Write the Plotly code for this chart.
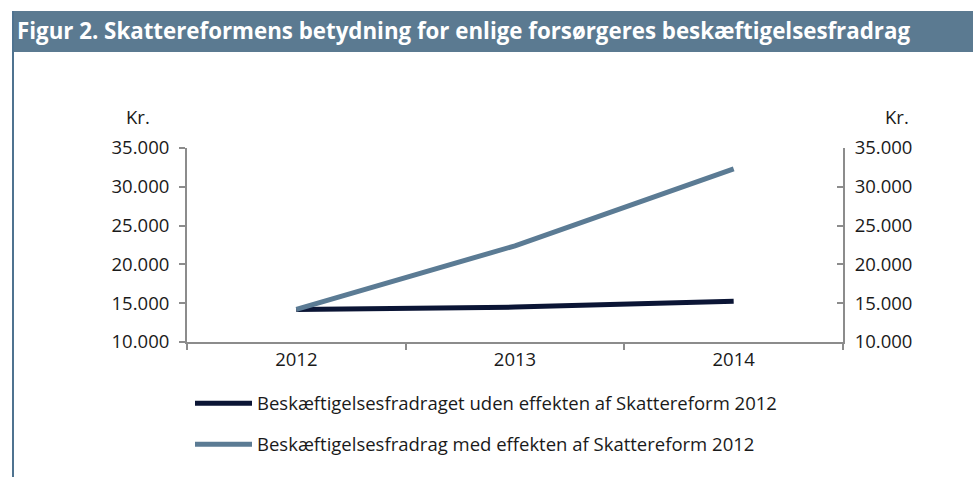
import plotly.graph_objects as go

years = ["2012", "2013", "2014"]
uden_effekt = [14200, 14500, 15250]
med_effekt = [14200, 22400, 32300]
series_names = [
    "Beskæftigelsesfradraget uden effekten af Skattereform 2012",
    "Beskæftigelsesfradrag med effekten af Skattereform 2012",
]
y_ticks = [10000, 15000, 20000, 25000, 30000, 35000]
y_tick_labels = ["10.000", "15.000", "20.000", "25.000", "30.000", "35.000"]
title_text = "Figur 2. Skattereformens betydning for enlige forsørgeres beskæftigelsesfradrag"

FONT = "Open Sans"
W, H = 973, 477
L, R, T, B = 187, 843, 148, 342

fig = go.Figure()
fig.add_trace(go.Scatter(x=years, y=uden_effekt, mode="lines", name=series_names[0],
                         legendgroup="a",
                         line=dict(color="#0b1535", width=5)))
fig.add_trace(go.Scatter(x=years, y=med_effekt, mode="lines", name=series_names[1],
                         legendgroup="b",
                         line=dict(color="#5b7b94", width=5)))
# invisible trace to activate right axis
fig.add_trace(go.Scatter(x=years, y=med_effekt, yaxis="y2", mode="lines",
                         line=dict(width=0, color="rgba(0,0,0,0)"),
                         showlegend=False, hoverinfo="skip"))

axis_font = dict(family=FONT, size=18.5, color="#1a1a1a")
fig.update_layout(
    width=W, height=H,
    margin=dict(l=L, r=W - R, t=T, b=H - B),
    paper_bgcolor="white", plot_bgcolor="white",
    showlegend=True,
    legend=dict(x=(190 - L) / (R - L), xanchor="left", y=-0.22, yanchor="top",
                font=dict(family=FONT, size=18.5, color="#1a1a1a"),
                itemwidth=57,
                tracegroupgap=14, bgcolor="rgba(0,0,0,0)"),
    xaxis=dict(type="category", range=[-0.5, 2.5], showgrid=False,
               showline=True, linecolor="#8c8c8c", linewidth=2,
               ticks="outside", tickson="boundaries", ticklen=6,
               tickcolor="#8c8c8c", tickwidth=2, tickfont=axis_font,
               zeroline=False),
    yaxis=dict(range=[10000, 35000], tickvals=y_ticks, ticktext=y_tick_labels,
               showgrid=False, showline=True, linecolor="#8c8c8c", linewidth=2,
               ticks="outside", ticklen=6, tickcolor="#8c8c8c", tickwidth=2,
               tickfont=axis_font, zeroline=False, ticklabelstandoff=6),
    yaxis2=dict(range=[10000, 35000], tickvals=y_ticks, ticktext=y_tick_labels,
                overlaying="y", side="right", showgrid=False, showline=True,
                linecolor="#8c8c8c", linewidth=2, ticks="inside", ticklen=6,
                tickcolor="#8c8c8c", tickwidth=2, tickfont=axis_font,
                zeroline=False, ticklabelstandoff=6),
    shapes=[
        dict(type="rect", xref="paper", yref="paper",
             x0=(12 - L) / (R - L), x1=(W - L) / (R - L),
             y0=(B - 52) / (B - T), y1=(B - 11) / (B - T),
             fillcolor="#5b7a91", line=dict(width=0), layer="below"),
        dict(type="line", xref="paper", yref="paper",
             x0=(13 - L) / (R - L), x1=(13 - L) / (R - L),
             y0=(B - 11) / (B - T), y1=(B - H) / (B - T),
             line=dict(color="#4f7390", width=2)),
    ],
    annotations=[
        dict(text="<b>" + title_text + "</b>", xref="paper", yref="paper",
             x=(15 - L) / (R - L), y=(B - 31) / (B - T), xanchor="left",
             yanchor="middle", showarrow=False,
             font=dict(family=FONT, size=22.3, color="white")),
        dict(text="Kr.", xref="paper", yref="paper",
             x=(138 - L) / (R - L), y=(B - 117) / (B - T), xanchor="center",
             yanchor="middle", showarrow=False, font=axis_font),
        dict(text="Kr.", xref="paper", yref="paper",
             x=(897 - L) / (R - L), y=(B - 117) / (B - T), xanchor="center",
             yanchor="middle", showarrow=False, font=axis_font),
    ],
)

fig.write_html("out.html", config={"displayModeBar": False},
               post_script="document.body.style.margin='0';document.body.style.overflow='hidden';")
